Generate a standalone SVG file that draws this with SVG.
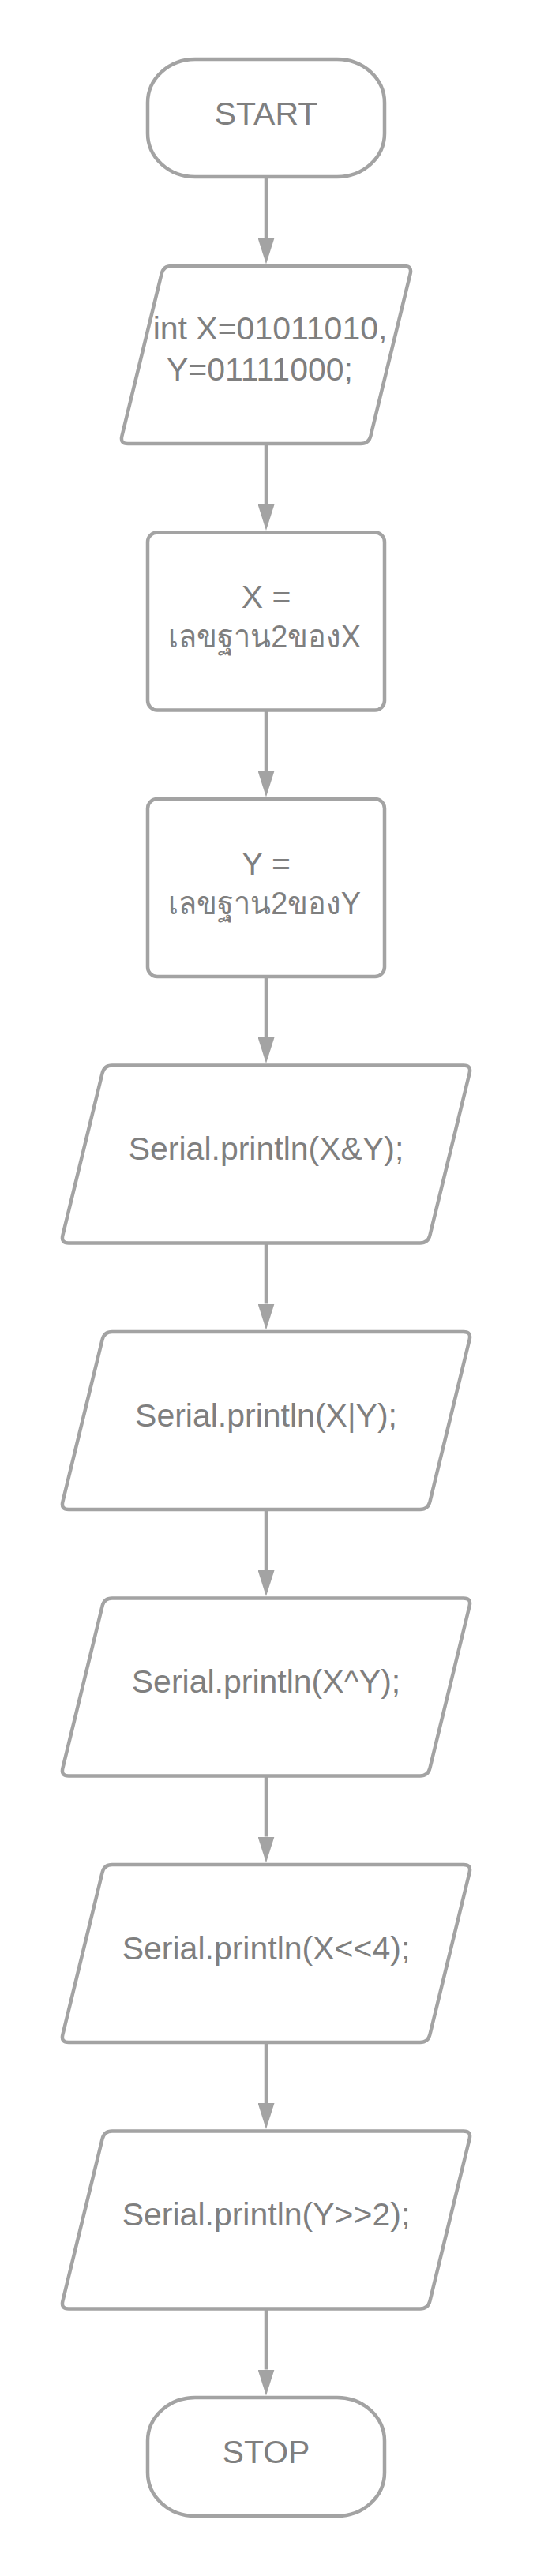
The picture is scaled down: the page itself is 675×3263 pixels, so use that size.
<svg xmlns="http://www.w3.org/2000/svg" xmlns:xlink="http://www.w3.org/1999/xlink" width="675" height="3263" viewBox="0 0 675 3263">
<style>
.shape{fill:#ffffff;stroke:#a3a3a3;stroke-width:4.5;stroke-linejoin:round}
.conn{fill:none;stroke:#a3a3a3;stroke-width:4.5}
.lbl{font-family:"Liberation Sans",Arial,"Noto Sans",sans-serif;font-size:41px;fill:#7f7f7f;text-anchor:middle}
</style>
<defs>
<marker id="arrow" markerUnits="userSpaceOnUse" viewBox="0 0 33 21" markerWidth="33" markerHeight="21" refX="0" refY="10.5" orient="auto">
<path d="M0 0 L33 10.5 L0 21 Z" fill="#a3a3a3"/>
</marker>
<path id="io-wide" d="M142 0 L587 0 Q597 0 594.6 9.7 L544.4 215.3 Q542 225 532 225 L87 225 Q77 225 79.4 215.3 L129.6 9.7 Q132 0 142 0 Z"/>
</defs>
<rect width="675" height="3263" fill="#ffffff"/>
<g id="connectors">
<path class="conn" marker-end="url(#arrow)" d="M337 224 L337 301.5"/>
<path class="conn" marker-end="url(#arrow)" d="M337 562 L337 639"/>
<path class="conn" marker-end="url(#arrow)" d="M337 899.5 L337 976.5"/>
<path class="conn" marker-end="url(#arrow)" d="M337 1237 L337 1314"/>
<path class="conn" marker-end="url(#arrow)" d="M337 1574.5 L337 1651.5"/>
<path class="conn" marker-end="url(#arrow)" d="M337 1912 L337 1989"/>
<path class="conn" marker-end="url(#arrow)" d="M337 2249.5 L337 2326.5"/>
<path class="conn" marker-end="url(#arrow)" d="M337 2587 L337 2664"/>
<path class="conn" marker-end="url(#arrow)" d="M337 2924.5 L337 3001.5"/>
</g>
<g id="start">
<rect class="shape" x="187" y="75" width="300" height="149" rx="60" ry="55"/>
<text class="lbl" x="337" y="158">START</text>
</g>
<g id="init">
<path class="shape" d="M217 337 L512 337 Q522 337 519.6 346.7 L469.4 552.3 Q467 562 457 562 L162 562 Q152 562 154.4 552.3 L204.6 346.7 Q207 337 217 337 Z"/>
<text class="lbl" x="342" y="430">int X=01011010,</text>
<text class="lbl" x="329" y="482">Y=01111000;</text>
</g>
<g id="setx">
<rect class="shape" x="187" y="674.5" width="300" height="225" rx="12"/>
<text class="lbl" x="337" y="770">X =</text>
<text class="lbl" x="335" y="820" textLength="244" lengthAdjust="spacingAndGlyphs">เลขฐาน2ของX</text>
</g>
<g id="sety">
<rect class="shape" x="187" y="1012" width="300" height="225" rx="12"/>
<text class="lbl" x="337" y="1107.5">Y =</text>
<text class="lbl" x="335" y="1157.5" textLength="244" lengthAdjust="spacingAndGlyphs">เลขฐาน2ของY</text>
</g>
<g id="print-and">
<use class="shape" href="#io-wide" xlink:href="#io-wide" x="0" y="1349.5"/>
<text class="lbl" x="337" y="1469">Serial.println(X&amp;Y);</text>
</g>
<g id="print-or">
<use class="shape" href="#io-wide" xlink:href="#io-wide" x="0" y="1687"/>
<text class="lbl" x="337" y="1806.5">Serial.println(X|Y);</text>
</g>
<g id="print-xor">
<use class="shape" href="#io-wide" xlink:href="#io-wide" x="0" y="2024.5"/>
<text class="lbl" x="337" y="2144">Serial.println(X^Y);</text>
</g>
<g id="print-shl">
<use class="shape" href="#io-wide" xlink:href="#io-wide" x="0" y="2362"/>
<text class="lbl" x="337" y="2481.5">Serial.println(X&lt;&lt;4);</text>
</g>
<g id="print-shr">
<use class="shape" href="#io-wide" xlink:href="#io-wide" x="0" y="2699.5"/>
<text class="lbl" x="337" y="2819">Serial.println(Y&gt;&gt;2);</text>
</g>
<g id="stop">
<rect class="shape" x="187" y="3037" width="300" height="150" rx="60" ry="55"/>
<text class="lbl" x="337" y="3120">STOP</text>
</g>
</svg>
